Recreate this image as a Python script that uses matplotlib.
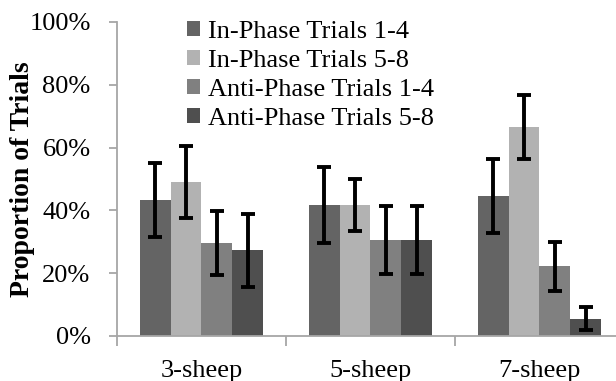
import numpy as np
import matplotlib
matplotlib.use('agg')
import matplotlib.pyplot as plt
from matplotlib.ticker import FuncFormatter

# categories and series (proportions in %)
categories = ['3-sheep', '5-sheep', '7-sheep']
series_names = ['In-Phase Trials 1-4', 'In-Phase Trials 5-8',
                'Anti-Phase Trials 1-4', 'Anti-Phase Trials 5-8']
in_14 = [43.2, 41.7, 44.6]
in_58 = [49.1, 41.7, 66.7]
anti_14 = [29.5, 30.6, 22.2]
anti_58 = [27.3, 30.6, 5.5]
err_in_14 = [11.8, 12.0, 11.7]
err_in_58 = [11.5, 8.4, 10.2]
err_anti_14 = [10.2, 10.7, 7.8]
err_anti_58 = [11.7, 10.7, 3.7]

colors = ['#646464', '#b2b2b2', '#808080', '#4f4f4f']
values = [in_14, in_58, anti_14, anti_58]
errors = [err_in_14, err_in_58, err_anti_14, err_anti_58]

plt.rcParams['font.family'] = ['Liberation Serif', 'DejaVu Serif']

fig = plt.figure(figsize=(6.16, 3.81), dpi=100)
ax = fig.add_axes([117/616, 1 - 336/381, 507/616, (336 - 22)/381])

x = np.arange(len(categories))
w = 0.182
for i in range(4):
    ax.bar(x + (i - 1.5) * w, values[i], w, color=colors[i], label=series_names[i],
           yerr=errors[i], error_kw=dict(ecolor='black', elinewidth=2.8,
                                         capsize=4.8, capthick=2.8))

ax.set_xlim(-0.5, 2.5)
ax.set_ylim(0, 100)
ax.set_yticks([0, 20, 40, 60, 80, 100])
ax.yaxis.set_major_formatter(FuncFormatter(lambda v, p: '%d%%' % v))
ax.set_xticks([-0.5, 0.5, 1.5, 2.5])
ax.set_xticklabels([])
ax.set_xticks(x, minor=True)
ax.set_xticklabels(categories, minor=True)
ax.tick_params(axis='x', which='minor', length=0, labelsize=19, pad=17)
ax.tick_params(axis='x', which='major', length=7, color='#a6a6a6', width=1.3)
ax.tick_params(axis='y', length=6, color='#a6a6a6', width=1.3, labelsize=19, pad=13)

for s in ['top', 'right']:
    ax.spines[s].set_visible(False)
for s in ['left', 'bottom']:
    ax.spines[s].set_color('#a6a6a6')
    ax.spines[s].set_linewidth(1.3)

ax.set_ylabel('Proportion of Trials', fontsize=20, fontweight='bold')
ax.yaxis.set_label_coords((35 - 117) / 507, (336 - 179) / 314)

leg = ax.legend(loc='upper left', bbox_to_anchor=(0.138, 1.003), frameon=False,
                fontsize=19, handlelength=0.5, handleheight=0.5, handletextpad=0.3,
                labelspacing=0.26, borderaxespad=0, borderpad=0)

plt.savefig('out.png', dpi=100)
